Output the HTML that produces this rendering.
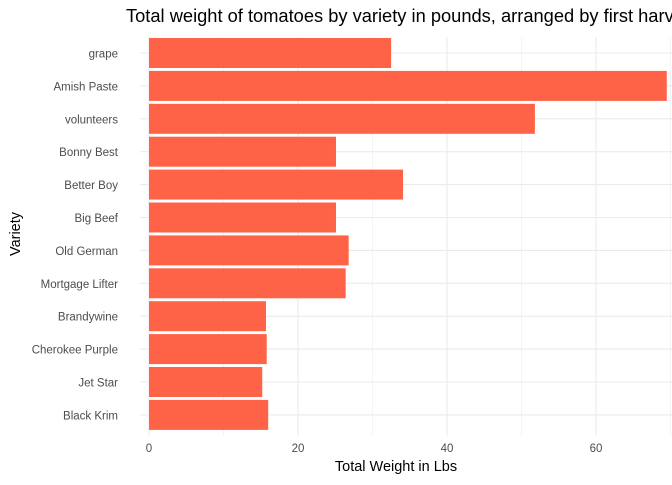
<!DOCTYPE html>
<html><head><meta charset="utf-8"><style>
body{margin:0;background:#fff;font-family:"Liberation Sans",sans-serif}
</style></head><body>
<svg id="c" width="672" height="480" xmlns="http://www.w3.org/2000/svg"></svg>
<script>
const categories=["grape","Amish Paste","volunteers","Bonny Best","Better Boy","Big Beef","Old German","Mortgage Lifter","Brandywine","Cherokee Purple","Jet Star","Black Krim"];
const weights=[32.5,69.5,51.8,25.1,34.1,25.1,26.8,26.4,15.7,15.8,15.2,16.0];
const ticks=[0,20,40,60];
const svg=document.getElementById('c');
const NS="http://www.w3.org/2000/svg";
const x0=149,ppu=7.45,panelTop=37,step=32.9,bh=30,pr=672,pb=436;
const xs=v=>x0+v*ppu;
const yc=i=>53+i*step;
function el(t,a,txt){const e=document.createElementNS(NS,t);for(const k in a)e.setAttribute(k,a[k]);if(txt!==undefined)e.textContent=txt;svg.appendChild(e);return e;}
for(let v=-10;v<=90;v+=10){const x=xs(v);if(x<140||x>pr)continue;
 const g=el('line',{x1:x,x2:x,y1:panelTop,y2:pb,stroke:'#ebebeb','stroke-width':v%20===0?1.1:0.55});
 
 }
categories.forEach((c,i)=>{const g=el('line',{x1:140,x2:pr,y1:yc(i),y2:yc(i),stroke:'#ebebeb','stroke-width':1.1});
 
 });
categories.forEach((c,i)=>{
 const r=el('rect',{x:xs(0),y:yc(i)-bh/2,width:xs(weights[i])-xs(0),height:bh,fill:'#ff6347'});
 
 
 const t=el('text',{x:118,y:yc(i)+4.5,'text-anchor':'end','font-size':11.5,fill:'#4d4d4d'},c);
 
 
});
ticks.forEach(v=>{const t=el('text',{x:xs(v),y:452,'text-anchor':'middle','font-size':11.5,fill:'#4d4d4d'},v);
 
 });
const xt=el('text',{x:396,y:471,'text-anchor':'middle','font-size':14.5,fill:'#000'},'Total Weight in Lbs');


const yt=el('text',{x:20,y:234,'text-anchor':'middle','font-size':14.5,fill:'#000',transform:'rotate(-90 20 234)'},'Variety');


const tt=el('text',{x:126,y:22,'font-size':18.3,fill:'#000'},'Total weight of tomatoes by variety in pounds, arranged by first harvest date');


</script>
</body></html>
